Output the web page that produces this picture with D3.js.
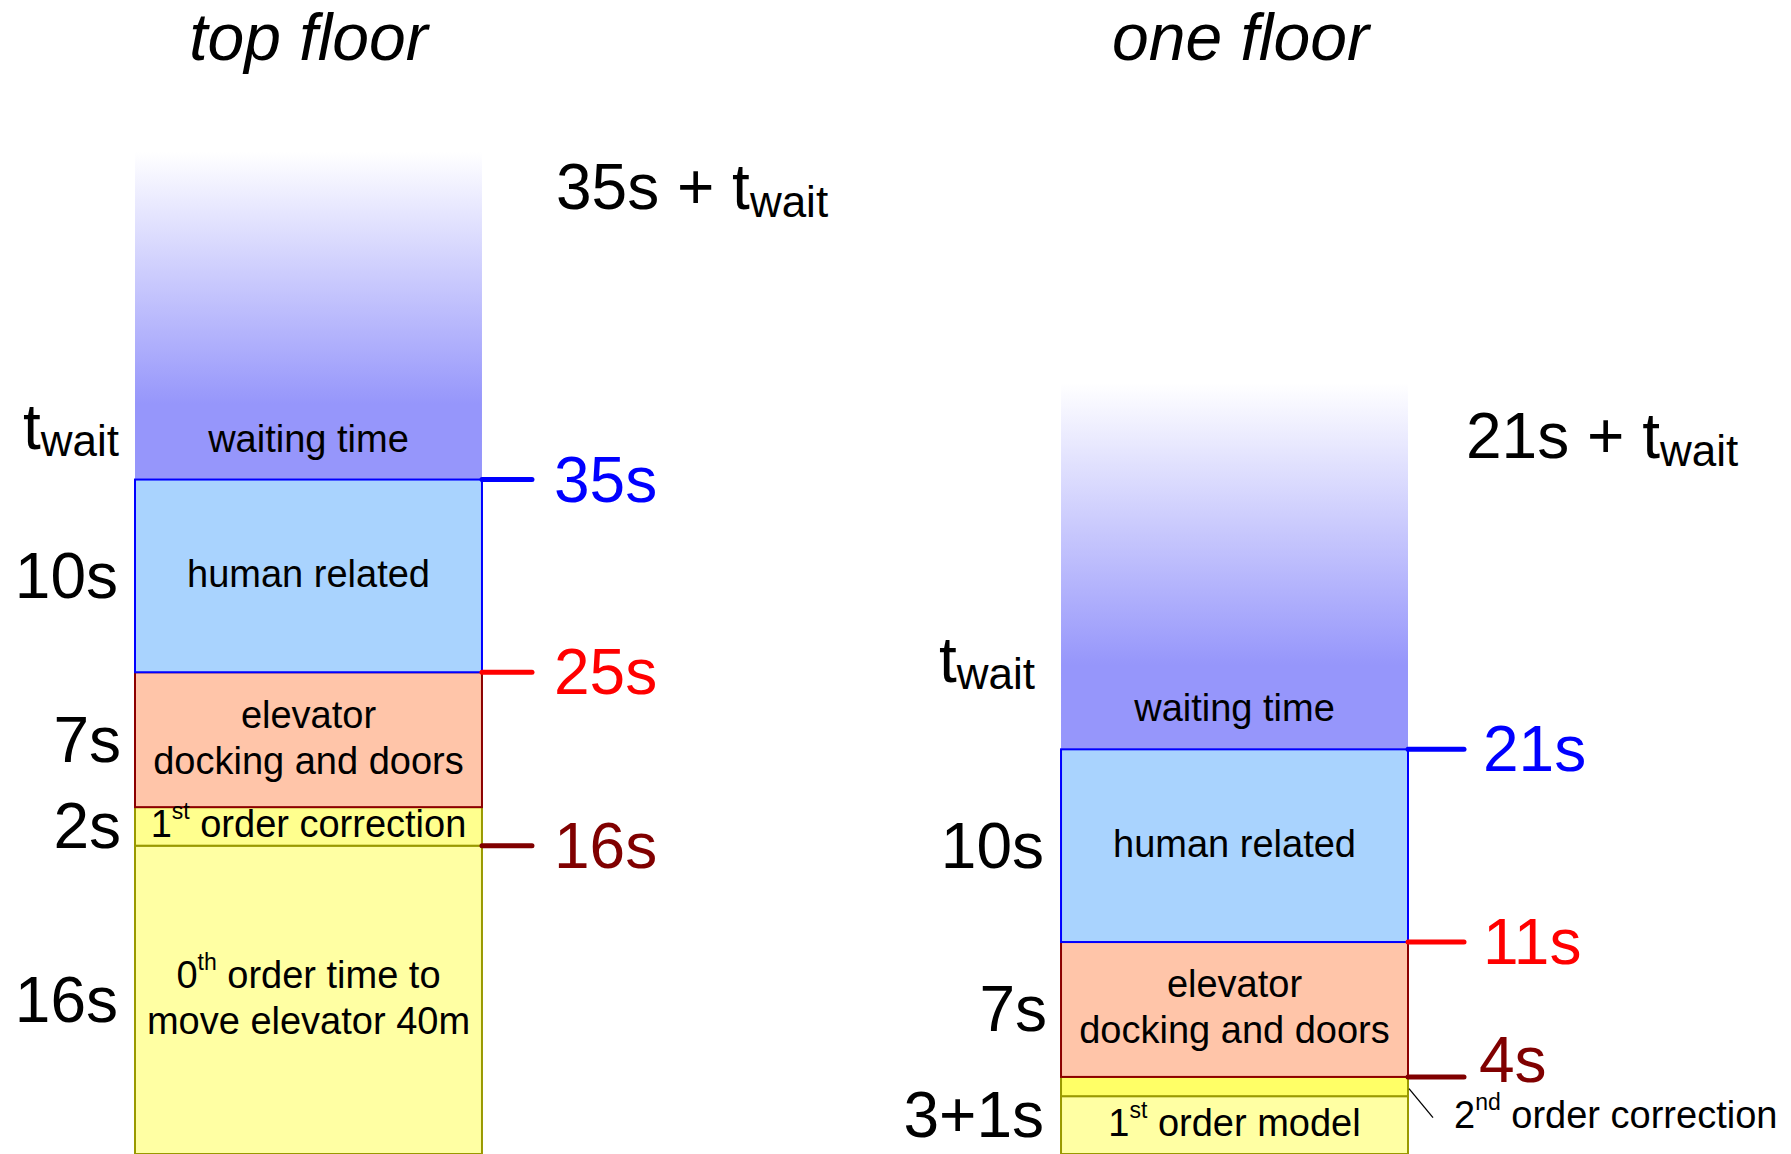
<!DOCTYPE html>
<html>
<head>
<meta charset="utf-8">
<title>Elevator trip time breakdown</title>
<script src="https://cdn.jsdelivr.net/npm/d3@7"></script>
<style>
  html, body { margin: 0; padding: 0; background: #ffffff; }
  svg { display: block; }
  text { font-family: "Liberation Sans", Arial, Helvetica, sans-serif; fill: #000; }
</style>
</head>
<body>
<svg id="chart" width="1791" height="1154"></svg>
<script>
// ---- data ----------------------------------------------------------------
// Two trips: to the top floor and to the next floor.
const categories = ["top floor", "one floor"];

// Stacked components, bottom to top (seconds). "^xx" marks a superscript.
const segmentNames = [
  [["0^th order time to", "move elevator 40m"], ["1^st order correction"], ["elevator", "docking and doors"], ["human related"]],
  [["1^st order model"], [], ["elevator", "docking and doors"], ["human related"]]
];
const segmentSeconds = [
  [16, 2, 7, 10],
  [3, 1, 7, 10]
];
const segmentKinds = [
  ["move", "correction", "docking", "human"],
  ["move", "correction2", "docking", "human"]
];

// Running totals marked on the right of each bar.
const markerValues = [
  [16, 25, 35],
  [4, 11, 21]
];
const markerLabels = [
  ["16s", "25s", "35s"],
  ["4s", "11s", "21s"]
];

// Duration labels on the left of each bar: [label, from, to] in seconds.
const sideLabels = [
  [["16s", 0, 16], ["2s", 16, 18], ["7s", 18, 25], ["10s", 25, 35]],
  [["3+1s", 0, 4], ["7s", 4, 11], ["10s", 11, 21]]
];

// Waiting-time block: faded extent above the fixed part (seconds).
const waitTop = [52, 40];
const totalLabels = ["35s + t_wait", "21s + t_wait"];
const waitLabel = "t_wait";
const waitText = "waiting time";
const secondOrderNote = "2^nd order correction";

// ---- styles --------------------------------------------------------------
const fills = {
  move: "#ffffa3",
  correction: "#ffff8e",
  correction2: "#ffff66",
  docking: "#ffc5a9",
  human: "#a9d3fe"
};
const strokes = {
  move: "#999900",
  correction: "#999900",
  correction2: "#999900",
  docking: "#8c0000",
  human: "#0000ff"
};
const markerColors = ["#800000", "#ff0000", "#0000ff"];

// ---- scales --------------------------------------------------------------
const svg = d3.select("#chart");
const H = 1154;

const x = d3.scaleBand()
  .domain(categories)
  .range([135, 1408])
  .paddingInner(0.6253)
  .paddingOuter(0);

const y = d3.scaleLinear()
  .domain([0, 52])
  .range([H, H - 52 * 19.27]);

const bw = x.bandwidth();

// rich text: "^xx" superscript, "_xx" subscript
function richText(sel, str, supSize, supRise, subSize, subDrop) {
  const parts = str.split(/([\^_]\w+)/).filter(s => s.length);
  let back = 0;
  parts.forEach(p => {
    if (p[0] === "^") {
      sel.append("tspan").attr("font-size", supSize).attr("dy", -supRise).text(p.slice(1));
      back = supRise;
    } else if (p[0] === "_") {
      sel.append("tspan").attr("font-size", subSize).attr("dy", subDrop).text(p.slice(1));
      back = -subDrop;
    } else {
      const t = sel.append("tspan").text(p);
      if (back) { t.attr("dy", back); back = 0; }
    }
  });
}

// gradient for the open-ended waiting time
const defs = svg.append("defs");
const grad = defs.append("linearGradient")
  .attr("id", "waitGrad")
  .attr("x1", 0).attr("y1", 0).attr("x2", 0).attr("y2", 1);
grad.append("stop").attr("offset", 0).attr("stop-color", "#ffffff");
grad.append("stop").attr("offset", 0.77).attr("stop-color", "#9696fb");
grad.append("stop").attr("offset", 1).attr("stop-color", "#9696fb");

// per-bar annotation layout
const titleShift = [0, 6];
const waitLabelLift = [31, 67];
const waitLabelGap = [16, 26];
const totalOffset = [[74, 57], [58, 75]];
const tickLen = [50, 56];
const tickGap = [22, 19];
const sideNudge = { "7s": 3, "2s": 3 };

categories.forEach((cat, i) => {
  const x0 = x(cat);
  const x1 = x0 + bw;
  const cx = x0 + bw / 2;
  const g = svg.append("g");

  // stacked segments
  const secs = segmentSeconds[i];
  const starts = d3.cumsum([0].concat(secs)).slice(0, secs.length);
  const fixedTotal = d3.sum(secs);

  // waiting time block
  g.append("rect")
    .attr("x", x0).attr("width", bw)
    .attr("y", y(waitTop[i]))
    .attr("height", y(fixedTotal) - y(waitTop[i]))
    .attr("fill", "url(#waitGrad)");

  g.append("text")
    .attr("x", cx).attr("y", y(fixedTotal) - 28)
    .attr("text-anchor", "middle").attr("font-size", 38)
    .text(waitText);

  secs.forEach((s, k) => {
    const kind = segmentKinds[i][k];
    const top = y(starts[k] + s);
    const bot = y(starts[k]);
    g.append("rect")
      .attr("x", x0).attr("width", bw)
      .attr("y", top).attr("height", bot - top)
      .attr("fill", fills[kind])
      .attr("stroke", strokes[kind])
      .attr("stroke-width", 2);
  });

  // segment captions
  secs.forEach((s, k) => {
    const lines = segmentNames[i][k];
    if (!lines.length) return;
    const mid = (y(starts[k]) + y(starts[k] + s)) / 2;
    const first = mid + 11 - (lines.length - 1) * 23;
    lines.forEach((ln, j) => {
      const t = g.append("text")
        .attr("x", cx).attr("y", first + j * 46)
        .attr("text-anchor", "middle").attr("font-size", 38);
      richText(t, ln, 23, 18, 28, 8);
    });
  });

  // title
  g.append("text")
    .attr("x", cx + titleShift[i]).attr("y", 60)
    .attr("text-anchor", "middle")
    .attr("font-size", 66).attr("font-style", "italic")
    .text(cat);

  // duration labels on the left
  sideLabels[i].forEach(([lab, a, b]) => {
    g.append("text")
      .attr("x", x0 - 17 + (sideNudge[lab] || 0)).attr("y", (y(a) + y(b)) / 2 + 22)
      .attr("text-anchor", "end").attr("font-size", 64)
      .text(lab);
  });

  // t_wait label
  const tw = g.append("text")
    .attr("x", x0 - waitLabelGap[i]).attr("y", y(fixedTotal) - waitLabelLift[i])
    .attr("text-anchor", "end").attr("font-size", 64);
  richText(tw, waitLabel, 23, 18, 44, 7);

  // total time label
  const tt = g.append("text")
    .attr("x", x1 + totalOffset[i][0]).attr("y", y(waitTop[i]) + totalOffset[i][1])
    .attr("font-size", 64);
  richText(tt, totalLabels[i], 23, 18, 44, 8);

  // running-total markers
  markerValues[i].forEach((v, k) => {
    const yy = y(v);
    g.append("line")
      .attr("x1", x1).attr("x2", x1 + tickLen[i])
      .attr("y1", yy).attr("y2", yy)
      .attr("stroke", markerColors[k])
      .attr("stroke-width", 5)
      .attr("stroke-linecap", "round");
    const nudge = (i === 1 && k === 0) ? -17 : 0;
    g.append("text")
      .attr("x", x1 + tickLen[i] + tickGap[i] - (i === 1 && k === 0 ? 4 : 0))
      .attr("y", yy + 22 + nudge)
      .attr("font-size", 64)
      .style("fill", markerColors[k])
      .text(markerLabels[i][k]);
  });

  // callout for the thin second-order band
  if (i === 1) {
    const bandMid = (y(3) + y(4)) / 2;
    g.append("line")
      .attr("x1", x1 + 1).attr("y1", bandMid + 2)
      .attr("x2", x1 + 25).attr("y2", bandMid + 31)
      .attr("stroke", "#000").attr("stroke-width", 1.3);
    const note = g.append("text")
      .attr("x", x1 + 46).attr("y", bandMid + 41)
      .attr("font-size", 38);
    richText(note, secondOrderNote, 23, 18, 28, 8);
  }
});
</script>
</body>
</html>
